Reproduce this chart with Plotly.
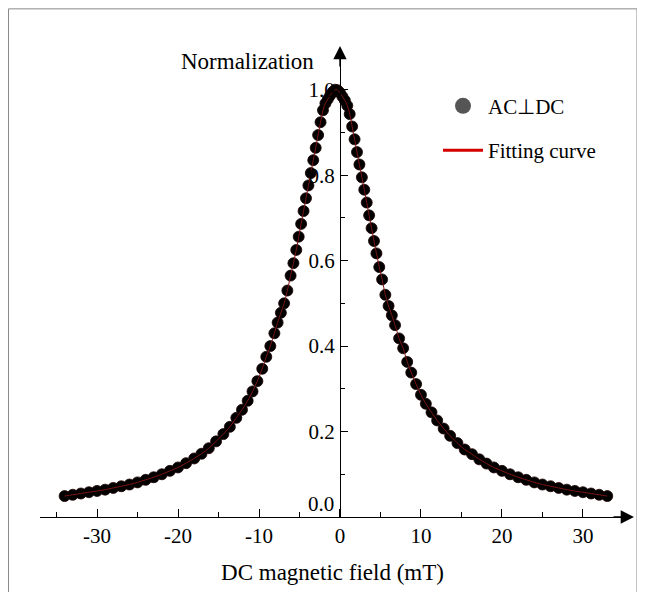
import plotly.graph_objects as go

# ---- data ----
field_mT = [
    -34.0, -33.0, -32.0, -31.0, -30.0, -29.0, -28.0, -27.0, -26.0, -25.0,
    -24.0, -23.0, -22.0, -21.0, -20.0, -19.0, -18.0, -17.1, -16.2, -15.3,
    -14.4, -13.6, -12.8, -12.1, -11.4, -10.8, -10.2, -9.6, -9.1, -8.6,
    -8.1, -7.7, -7.3, -6.9, -6.5, -6.1, -5.75, -5.4, -5.1, -4.8,
    -4.5, -4.2, -3.9, -3.6, -3.3, -3.0, -2.7, -2.4, -2.1, -1.8,
    -1.5, -1.2, -0.9, -0.6,
    -0.3, 0.0, 0.3, 0.6, 0.9, 1.2, 1.5, 1.8, 2.1, 2.4,
    2.7, 3.0, 3.3, 3.6, 3.9, 4.2, 4.5, 4.85, 5.2, 5.6,
    6.0, 6.4, 6.8, 7.3, 7.8, 8.3, 8.8, 9.4, 10.0, 10.6,
    11.3, 12.0, 12.8, 13.6, 14.5, 15.4, 16.3, 17.2, 18.1, 19.0,
    20.0, 21.0, 22.0, 23.0, 24.0, 25.0, 26.0, 27.0, 28.0, 29.0,
    30.0, 31.0, 32.0, 33.0,
]
normalization = [
    0.049, 0.052, 0.055, 0.058, 0.061, 0.064, 0.068, 0.072, 0.076, 0.081,
    0.087, 0.093, 0.100, 0.108, 0.116, 0.126, 0.137, 0.148, 0.161, 0.177,
    0.194, 0.211, 0.232, 0.251, 0.272, 0.294, 0.318, 0.347, 0.375, 0.400,
    0.430, 0.455, 0.478, 0.500, 0.530, 0.565, 0.594, 0.625, 0.656, 0.686,
    0.716, 0.746, 0.776, 0.805, 0.835, 0.864, 0.894, 0.924, 0.952, 0.968,
    0.978, 0.987, 0.995, 1.000,
    0.999, 0.993, 0.984, 0.975, 0.963, 0.943, 0.914, 0.884, 0.854, 0.825,
    0.795, 0.766, 0.736, 0.706, 0.676, 0.646, 0.617, 0.585, 0.556, 0.520,
    0.494, 0.472, 0.449, 0.418, 0.395, 0.363, 0.338, 0.311, 0.286, 0.265,
    0.245, 0.226, 0.207, 0.190, 0.173, 0.158, 0.147, 0.135, 0.125, 0.116,
    0.108, 0.100, 0.093, 0.087, 0.081, 0.076, 0.072, 0.068, 0.064, 0.061,
    0.058, 0.055, 0.052, 0.049,
]
# fitting curve (drawn through the same measured positions)
fit_x = field_mT
fit_y = normalization

x_tickvals = [-30, -20, -10, 0, 10, 20, 30]
x_ticktext = ["-30", "-20", "-10", "0", "10", "20", "30"]
y_tickvals = [0.2, 0.4, 0.6, 0.8, 1.0]
y_ticktext = ["0.2", "0.4", "0.6", "0.8", "1.0"]

series_name = "AC\u22a5DC"
fit_name = "Fitting curve"

FONT = "Liberation Serif"
OFF = 8  # page body margin
W, H = 645 - OFF, 592 - OFF
L, R, T, B = 32, 20, 42, 71
xmin, xmax = -37.04, 35.19
ymin, ymax = 0.0, 1.093
pw = W - L - R
ph = H - T - B

def px_to_paper_x(px):  # px given in page coordinates
    return (px - OFF - L) / pw

def px_to_paper_y(py):
    return (H - B - (py - OFF)) / ph

fig = go.Figure()

fig.add_trace(go.Scatter(
    x=field_mT, y=normalization, mode="markers",
    marker=dict(color="#000000", size=11, line=dict(color="#1a0000", width=0.8)),
    showlegend=False,
))
fig.add_trace(go.Scatter(
    x=fit_x, y=fit_y, mode="lines",
    line=dict(color="#7a1414", width=1, shape="spline"),
    showlegend=False, hoverinfo="skip",
))
# legend entries
fig.add_trace(go.Scatter(
    x=[None], y=[None], mode="markers", name=series_name,
    marker=dict(color="#555555", size=16),
    legendgroup="a",
))
fig.add_trace(go.Scatter(
    x=[None], y=[None], mode="lines", name=fit_name,
    line=dict(color="#d40000", width=3),
    legendgroup="b",
))

ypos = (0 - xmin) / (xmax - xmin)

fig.update_layout(
    width=W, height=H,
    margin=dict(l=L, r=R, t=T, b=B),
    paper_bgcolor="white", plot_bgcolor="white",
    font=dict(family=FONT, size=20, color="#000"),
    showlegend=True,
    legend=dict(
        x=px_to_paper_x(438), y=px_to_paper_y(86),
        xanchor="left", yanchor="top",
        bgcolor="rgba(0,0,0,0)",
        font=dict(family=FONT, size=21, color="#000"),
        traceorder="grouped", tracegroupgap=14, itemwidth=40,
    ),
    xaxis=dict(
        range=[xmin, xmax], domain=[0, 1],
        showgrid=False, zeroline=False,
        showline=True, linecolor="#000", linewidth=1.2,
        tickmode="array", tickvals=x_tickvals, ticktext=x_ticktext,
        ticks="inside", ticklen=8, tickwidth=1.2, tickcolor="#000",
        minor=dict(tickmode="array", tickvals=[-35, -25, -15, -5, 5, 15, 25, 35],
                   ticks="inside", ticklen=5, tickwidth=1.2, tickcolor="#000"),
        tickfont=dict(family=FONT, size=21),
        title=dict(text="DC magnetic field (mT)", font=dict(family=FONT, size=23),
                   standoff=16),
        anchor="y",
    ),
    yaxis=dict(
        range=[ymin, ymax],
        showgrid=False, zeroline=False,
        showline=True, linecolor="#000", linewidth=1.2,
        anchor="free", position=ypos, side="left",
        tickmode="array", tickvals=y_tickvals, ticktext=y_ticktext,
        ticks="inside", ticklen=7, tickwidth=1.2, tickcolor="#000",
        minor=dict(tickmode="array", tickvals=[0.1, 0.3, 0.5, 0.7, 0.9],
                   ticks="inside", ticklen=4, tickwidth=1.2, tickcolor="#000"),
        tickfont=dict(family=FONT, size=21),
        ticklabelstandoff=1,
    ),
    shapes=[
        dict(type="rect", xref="paper", yref="paper",
             x0=px_to_paper_x(OFF + 0.5), x1=px_to_paper_x(637),
             y0=px_to_paper_y(610), y1=px_to_paper_y(OFF + 0.5),
             line=dict(color="#8a8a8a", width=1), fillcolor="rgba(0,0,0,0)",
             layer="below"),
    ],
    annotations=[
        # y-axis arrow
        dict(x=0, y=px_to_paper_y(46), xref="x", yref="paper", text="",
             showarrow=True, ax=0, ay=22, arrowhead=2, arrowsize=1.9,
             arrowwidth=1.4, arrowcolor="#000", standoff=0),
        # x-axis arrow
        dict(x=px_to_paper_x(634), y=0, xref="paper", yref="y", text="",
             showarrow=True, ax=-22, ay=0, arrowhead=2, arrowsize=1.9,
             arrowwidth=1.4, arrowcolor="#000", standoff=0),
        dict(x=px_to_paper_x(316), y=px_to_paper_y(62), xref="paper", yref="paper",
             text="Normalization", showarrow=False, xanchor="right", yanchor="middle",
             font=dict(family=FONT, size=23, color="#000")),
        dict(x=px_to_paper_x(336), y=px_to_paper_y(508), xref="paper", yref="paper",
             text="0.0", showarrow=False, xanchor="right", yanchor="middle",
             font=dict(family=FONT, size=21, color="#000")),
    ],
)

fig.write_html("out.html")
